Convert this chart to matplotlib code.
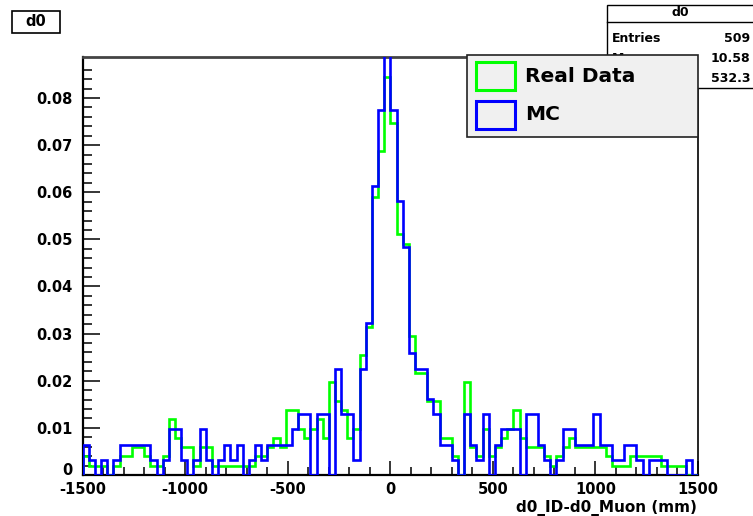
import numpy as np
import matplotlib.pyplot as plt
from matplotlib.patches import Rectangle
from matplotlib.lines import Line2D

# histogram d0_ID - d0_Muon, 100 bins from -1500 to 1500 mm
x_lo, x_hi, n_bins = -1500, 1500, 100
y_max = 0.0887

# bin contents (counts), normalised below
n_data = 509   # entries of real data
n_mc = 310
data_counts = [2, 1, 1, 1, 0, 1, 2, 2, 3, 3, 2, 1, 1, 2, 6, 4, 3, 3, 1, 3,
               3, 1, 1, 1, 1, 1, 1, 1, 2, 2, 3, 4, 3, 7, 7, 5, 4, 5, 6, 4,
               10, 8, 7, 4, 5, 13, 16, 30, 35, 43,
               38, 26, 25, 15, 11, 11, 8, 8, 4, 4, 2, 0, 10, 3, 2, 5, 2, 3, 4, 5,
               7, 4, 3, 3, 3, 2, 1, 2, 3, 4, 3, 3, 3, 3, 3, 2, 1, 1, 1, 2,
               2, 2, 2, 2, 1, 1, 1, 1, 0, 0]
mc_counts = [2, 1, 0, 1, 0, 1, 2, 2, 2, 2, 2, 1, 0, 1, 3, 3, 1, 0, 1, 3,
             1, 0, 1, 2, 1, 2, 0, 1, 2, 1, 2, 2, 2, 2, 3, 4, 4, 0, 4, 4,
             0, 7, 4, 4, 1, 7, 10, 19, 24, 29,
             24, 18, 15, 8, 7, 7, 5, 4, 2, 2, 1, 0, 4, 2, 1, 4, 0, 2, 3, 3,
             3, 0, 4, 4, 2, 1, 0, 1, 3, 3, 2, 2, 2, 4, 2, 2, 1, 1, 2, 2,
             1, 0, 1, 1, 1, 0, 0, 0, 1, 0]

x_ticks = [-1500, -1000, -500, 0, 500, 1000, 1500]
y_ticks = [0, 0.01, 0.02, 0.03, 0.04, 0.05, 0.06, 0.07, 0.08]
y_labels = ["0", "0.01", "0.02", "0.03", "0.04", "0.05", "0.06", "0.07", "0.08"]

edges = np.linspace(x_lo, x_hi, n_bins + 1)
data = np.array(data_counts) / n_data
mc = np.array(mc_counts) / n_mc

W, H = 753, 516
def fx(px):
    return px / W
def fy(py):
    return 1 - py / H

plt.rcParams['font.family'] = ['DejaVu Sans']
plt.rcParams['font.weight'] = 'bold'

fig = plt.figure(figsize=(W / 100, H / 100), dpi=100)
ax = fig.add_axes([fx(82.7), fy(475), fx(698) - fx(82.7), fy(57) - fy(475)])

ax.stairs(data, edges, color="#00ff00", lw=1.9, baseline=0, zorder=3)
ax.stairs(mc, edges, color="#0000ff", lw=1.9, baseline=0, zorder=4)

ax.set_xlim(x_lo, x_hi)
ax.set_ylim(0, y_max)
ax.set_xticks(x_ticks)
ax.set_xticklabels([str(t) for t in x_ticks])
ax.set_xticks(np.arange(-1400, 1500, 100), minor=True)
ax.set_yticks(y_ticks)
ax.set_yticklabels(y_labels)
ax.set_yticks(np.arange(0, 0.088, 0.002), minor=True)

ax.tick_params(axis="both", which="both", direction="in", top=False, right=False,
               labelsize=10.5, width=1.1, color="black")
ax.tick_params(axis="y", which="major", length=12, pad=7)
ax.tick_params(axis="y", which="minor", length=6.5)
ax.tick_params(axis="x", which="major", length=10, pad=5)
ax.tick_params(axis="x", which="minor", length=5.5)
for lab in ax.get_xticklabels() + ax.get_yticklabels():
    lab.set_fontweight("bold")
ax.get_yticklabels()[0].set_verticalalignment("baseline")

ax.spines["left"].set_linewidth(1.6)
ax.spines["bottom"].set_linewidth(1.6)
ax.spines["top"].set_linewidth(2.0)
ax.spines["top"].set_color("#444444")
ax.spines["right"].set_linewidth(1.2)

fig.text(fx(697), fy(508), "d0_ID-d0_Muon (mm)", ha="right", va="center",
         fontsize=11, fontweight="bold")

# title box
fig.patches.append(Rectangle((fx(12), fy(33)), fx(60) - fx(12), fy(11) - fy(33),
                             transform=fig.transFigure, facecolor="white",
                             edgecolor="black", lw=1.2))
fig.text(fx(36), fy(22), "d0", ha="center", va="center", fontsize=10.5, fontweight="bold")

# stats box (lower rows are hidden behind the legend)
fig.patches.append(Rectangle((fx(607), fy(88)), fx(760) - fx(607), fy(5) - fy(88),
                             transform=fig.transFigure, facecolor="white",
                             edgecolor="black", lw=1.0, zorder=5))
fig.lines.append(Line2D([fx(607), fx(753)], [fy(22), fy(22)], transform=fig.transFigure,
                        color="black", lw=1.0, zorder=6))
fig.text(fx(680), fy(13), "d0", ha="center", va="center", fontsize=9, fontweight="bold", zorder=6)
stat_rows = [("Entries", "509"), ("Mean", "10.58"), ("", "532.3")]
for i, (name, val) in enumerate(stat_rows):
    yy = fy(39 + 20 * i)
    if name:
        fig.text(fx(612), yy, name, ha="left", va="center", fontsize=9, fontweight="bold", zorder=6)
    fig.text(fx(750), yy, val, ha="right", va="center", fontsize=9, fontweight="bold", zorder=6)

# legend
fig.patches.append(Rectangle((fx(467), fy(137)), fx(698) - fx(467), fy(55) - fy(137),
                             transform=fig.transFigure, facecolor="#f0f0f0",
                             edgecolor="#222222", lw=1.2, zorder=8))
leg_entries = [("Real Data", "#00ff00"), ("MC", "#0000ff")]
for i, (name, col) in enumerate(leg_entries):
    top = 62 + 39 * i
    fig.patches.append(Rectangle((fx(476), fy(top + 28)), fx(515) - fx(476), fy(top) - fy(top + 28),
                                 transform=fig.transFigure, facecolor="none",
                                 edgecolor=col, lw=2.2, zorder=9))
    fig.text(fx(525), fy(top + 14), name, ha="left", va="center", fontsize=14.5,
             fontweight="bold", zorder=9)

fig.savefig("out.png", dpi=100)
